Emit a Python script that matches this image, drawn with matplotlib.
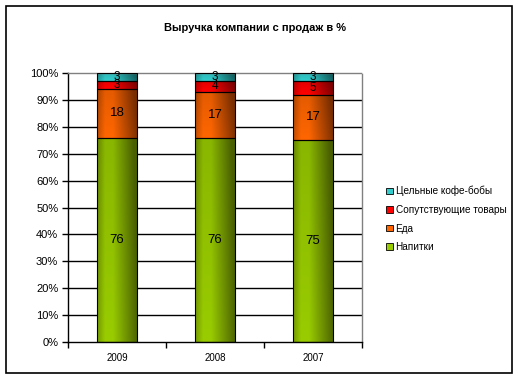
import numpy as np
import matplotlib
matplotlib.use("Agg")
import matplotlib.pyplot as plt
from matplotlib.patches import Rectangle
from matplotlib.ticker import PercentFormatter

plt.rcParams["font.family"] = ["Liberation Sans", "DejaVu Sans"]

years = ["2009", "2008", "2007"]
series_names = ["Напитки", "Еда", "Сопутствующие товары", "Цельные кофе-бобы"]
drinks = [76, 76, 75]
food = [18, 17, 17]
goods = [3, 4, 5]
beans = [3, 3, 3]
title = "Выручка компании с продаж в %"

colors = ["#99CC00", "#FF6600", "#FF0000", "#33CCCC"]
dark = ["#4A6000", "#7A2E00", "#800000", "#136060"]

fig = plt.figure(figsize=(5.18, 3.80), dpi=100)
ax = fig.add_axes([68 / 518, 38 / 380, 294 / 518, 269 / 380])

x = np.arange(len(years))
series = [np.array(s, float) for s in (drinks, food, goods, beans)]
total = sum(series)
bottom = np.zeros(len(years))


def gradient(base, shade):
    # fake Excel-style fill: light in the middle, darker on the right and a bit on the left
    b = np.array(matplotlib.colors.to_rgb(base))
    d = np.array(matplotlib.colors.to_rgb(shade))
    u = np.linspace(0, 1, 60)[None, :]
    v = np.linspace(0, 1, 30)[:, None]
    t = np.clip(1.7 * (u - 0.4), 0, 1) * 0.9 + np.clip((0.2 - u) / 0.2, 0, 1) * 0.45
    t = np.clip(t + 0.2 * v, 0, 1)
    return b * (1 - t[..., None]) + d * t[..., None]


for vals, name, c, dk in zip(series, series_names, colors, dark):
    pct = vals / total * 100
    bars = ax.bar(x, pct, 0.4, bottom=bottom, color=c, edgecolor="black",
                  linewidth=0.8, label=name, zorder=3)
    img = gradient(c, dk)
    for p in bars:
        bx, by = p.get_x(), p.get_y()
        im = ax.imshow(img, extent=[bx, bx + p.get_width(), by + p.get_height(), by],
                       aspect="auto", zorder=2.5, interpolation="bilinear")
        im.set_clip_path(p)
        p.set_facecolor("none")
    ax.bar_label(bars, labels=[f"{v:g}" for v in vals], label_type="center",
                 fontsize=9.5 if vals.min() > 5 else 8.5, color="black", zorder=4)
    bottom += pct

ax.set_xlim(-0.5, 2.5)
ax.set_ylim(0, 100)
ax.set_aspect("auto")
ax.set_yticks(np.arange(0, 101, 10))
ax.yaxis.set_major_formatter(PercentFormatter(decimals=0))
ax.set_xticks(x)
ax.set_xticklabels(years, fontsize=7)
ax.set_xticks([-0.5, 0.5, 1.5, 2.5], minor=True)
ax.tick_params(axis="x", which="major", length=0, pad=8)
ax.tick_params(axis="x", which="minor", length=4, width=1, direction="out")
ax.tick_params(axis="y", labelsize=8, length=4, width=1, pad=3)

for yv in range(10, 100, 10):
    ax.axhline(yv, color="black", linewidth=1, zorder=1)
ax.spines["left"].set_linewidth(1)
ax.spines["bottom"].set_linewidth(1)
for side in ("top", "right"):
    ax.spines[side].set_color("#808080")
    ax.spines[side].set_linestyle((0, (1, 1)))
    ax.spines[side].set_linewidth(1)

handles = [Rectangle((0, 0), 1, 1, facecolor=c, edgecolor="black", linewidth=0.6)
           for c in colors]
fig.legend(handles[::-1], series_names[::-1], loc="upper left",
           bbox_to_anchor=(377 / 518, 1 - 177 / 380), frameon=False,
           fontsize=7.2, handlelength=0.65, handleheight=0.65, handletextpad=0.3,
           labelspacing=0.85)

fig.text(255 / 518, 1 - 28 / 380, title, ha="center", va="center",
         fontsize=8, fontweight="bold")

fig.patches.append(Rectangle((6 / 518, 1 - 373 / 380), 506 / 518, 367 / 380,
                             transform=fig.transFigure, fill=False,
                             edgecolor="black", linewidth=1.2))

fig.savefig("out.png", dpi=100)
